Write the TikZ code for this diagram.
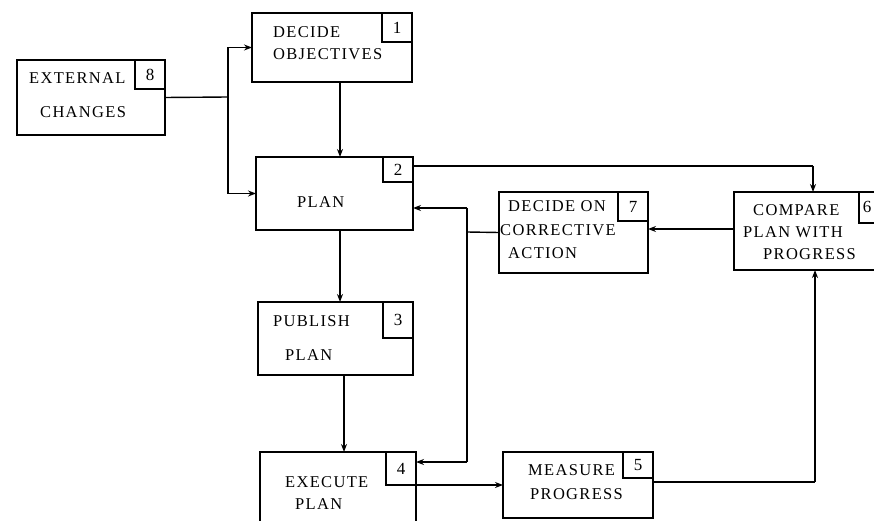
\documentclass[tikz,border=0pt]{standalone}
\usepackage{fontspec}
\setmainfont[LetterSpace=8]{Liberation Serif}
\usetikzlibrary{arrows.meta}
\tikzset{
  box/.style={draw, line width=1.4pt, anchor=north west, inner sep=0pt, outer sep=0pt},
  num/.style={draw, line width=1.3pt, anchor=north east, inner sep=0pt, outer sep=0pt, minimum width=30pt, minimum height=29pt, font=\fontsize{17}{17}\selectfont},
  lbl/.style={anchor=west, inner sep=0pt, font=\fontsize{16.5}{16.5}\selectfont},
  ln/.style={line width=1.4pt},
  arr/.style={line width=1.4pt, -{Stealth[length=8pt,width=6pt]}}
}
\begin{document}
\begin{tikzpicture}[x=1pt,y=-1pt]
\useasboundingbox (0,0) rectangle (874,521);
\clip (0,0) rectangle (874,521);
% boxes
\node[box, minimum width=148pt, minimum height=75pt] (b8) at (17,60) {};
\node[box, minimum width=160pt, minimum height=69pt] (b1) at (252,13) {};
\node[box, minimum width=157pt, minimum height=73pt] (b2) at (256,157) {};
\node[box, minimum width=155pt, minimum height=73pt] (b3) at (258,302) {};
\node[box, minimum width=156pt, minimum height=95pt] (b4) at (260,452) {};
\node[box, minimum width=150pt, minimum height=66pt] (b5) at (503,452) {};
\node[box, minimum width=160pt, minimum height=78pt] (b6) at (734,192) {};
\node[box, minimum width=149pt, minimum height=81pt] (b7) at (499,192) {};
% number boxes
\node[num] (n8) at (b8.north east) {8};
\node[num] (n1) at (b1.north east) {1};
\node[num, minimum height=25pt] (n2) at (b2.north east) {2};
\node[num, minimum height=36pt] (n3) at (b3.north east) {3};
\node[num, minimum height=33pt] (n4) at (b4.north east) {4};
\node[num, minimum height=26pt] (n5) at (b5.north east) {5};
\node[num, minimum width=40pt, minimum height=31pt] (n6) at (899,192) {};
\node[inner sep=0pt, font=\fontsize{17}{17}\selectfont] (t6n) at (867,207) {6};
\node[num] (n7) at (b7.north east) {7};
% labels
\node[lbl] (t8a) at (29,78) {EXTERNAL};
\node[lbl] (t8b) at (40,112) {CHANGES};
\node[lbl] (t1a) at (273,32) {DECIDE};
\node[lbl] (t1b) at (273,54) {OBJECTIVES};
\node[lbl] (t2) at (297,202) {PLAN};
\node[lbl] (t3a) at (273,321) {PUBLISH};
\node[lbl] (t3b) at (285,355) {PLAN};
\node[lbl] (t4a) at (285,482) {EXECUTE};
\node[lbl] (t4b) at (295,504) {PLAN};
\node[lbl] (t5a) at (528,470) {MEASURE};
\node[lbl] (t5b) at (530,494) {PROGRESS};
\node[lbl] (t6a) at (753,210) {COMPARE};
\node[lbl] (t6b) at (743,232) {PLAN WITH};
\node[lbl] (t6c) at (763,254) {PROGRESS};
\node[lbl] (t7a) at (508,206) {DECIDE ON};
\node[lbl] (t7b) at (500,230) {CORRECTIVE};
\node[lbl] (t7c) at (508,253) {ACTION};
% junctions
\coordinate (j8) at (228,97);
\coordinate (j2) at (813,166);
\coordinate (j7) at (467,232);
\coordinate (j7t) at (467,208);
\coordinate (j7b) at (467,462);
\coordinate (j5) at (815,482);
% connectors
\draw[ln] (b8.east) -- (j8);
\draw[arr] (j8) |- (b1.west);
\draw[arr] (j8) |- (b2.west);
\draw[arr] (b1.south west -| 340,0) -- (b2.north west -| 340,0);
\draw[ln] (b2.north east |- j2) -- (j2);
\draw[arr] (j2) -- (j2 |- b6.north);
\draw[arr] (b6.west |- 0,229) -- (b7.east |- 0,229);
\draw[ln] (b7.west) -- (j7);
\draw[ln] (j7t) -- (j7b);
\draw[arr] (j7t) -- (j7t -| b2.east);
\draw[arr] (j7b) -- (j7b -| b4.east);
\draw[arr] (b2.south west -| 340,0) -- (b3.north west -| 340,0);
\draw[arr] (b3.south west -| 344,0) -- (b4.north west -| 344,0);
\draw[arr] (b4.east |- b5.west) -- (b5.west);
\draw[ln] (b5.east |- j5) -- (j5);
\draw[arr] (j5) -- (j5 |- b6.south);
\end{tikzpicture}
\end{document}
